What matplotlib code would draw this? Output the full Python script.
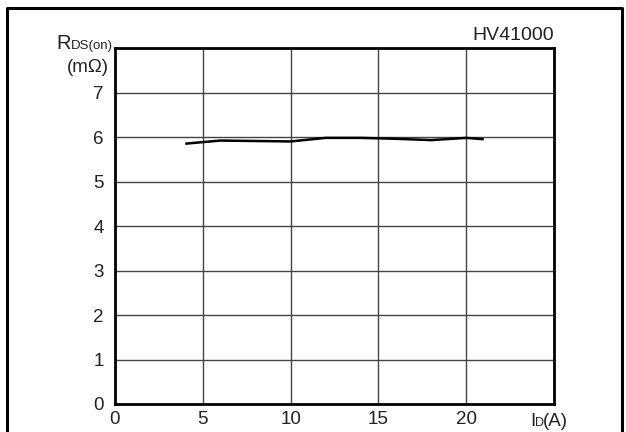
import matplotlib
matplotlib.use("Agg")
import matplotlib.pyplot as plt
from matplotlib.lines import Line2D

plt.rcParams['font.family'] = ['Liberation Sans', 'DejaVu Sans']

# Data
current_a = [4, 6, 8, 10, 12, 14, 16, 18, 20, 21]
rds_mohm = [5.85, 5.92, 5.91, 5.90, 5.98, 5.98, 5.96, 5.93, 5.98, 5.95]
x_ticks = [0, 5, 10, 15, 20]
y_ticks = [0, 1, 2, 3, 4, 5, 6, 7]
part_name = "HV41000"

W, H = 626, 432
fig = plt.figure(figsize=(W / 100, H / 100), dpi=100)
ax = fig.add_axes([115 / W, 1 - 404 / H, 439 / W, 356 / H])

ax.plot(current_a, rds_mohm, color='black', lw=1.8, solid_capstyle='butt')

ax.set_xlim(0, 25)
ax.set_ylim(0, 8)
ax.set_xticks(x_ticks)
ax.set_yticks(y_ticks)
ax.set_xticklabels([str(v) for v in x_ticks])
ax.set_yticklabels([str(v) for v in y_ticks])
ax.tick_params(length=0, labelsize=13.5, colors='#222222')
ax.tick_params(axis='x', pad=5)
ax.tick_params(axis='y', pad=8)

# grid
for xv in [5, 10, 15, 20]:
    ax.axvline(xv, color='#444444', lw=1.0, zorder=0)
for yv in [1, 2, 3, 4, 5, 6, 7]:
    ax.axhline(yv, color='#444444', lw=1.0, zorder=0)

for s in ax.spines.values():
    s.set_linewidth(2.0)
    s.set_color('black')

# part name
ax.text(1.0, 1.012, part_name, transform=ax.transAxes, ha='right', va='bottom',
        fontsize=14, color='#222222')

# y label: R DS(on) / (mΩ)
fig.text(71 / W, 1 - 49 / H, "R", ha='right', va='baseline', fontsize=14.5, color='#222222')
fig.text(71 / W, 1 - 49 / H, "DS(on)", ha='left', va='baseline', fontsize=9.5, color='#222222')
fig.text(109 / W, 1 - 72 / H, "(mΩ)", ha='right', va='baseline', fontsize=13.5, color='#222222')

# x label: I D (A)
fig.text(530 / W, 1 - 426 / H, "I", ha='left', va='baseline', fontsize=13.5, color='#222222')
fig.text(535 / W, 1 - 426 / H, "D", ha='left', va='baseline', fontsize=9, color='#222222')
fig.text(543 / W, 1 - 426 / H, "(A)", ha='left', va='baseline', fontsize=13.5, color='#222222')

# outer frame (open at the bottom)
fx0, fx1, fy = 7 / W, 622 / W, 1 - 8 / H
fig.add_artist(Line2D([fx0, fx0, fx1, fx1], [0, fy, fy, 0], transform=fig.transFigure,
                      color='black', lw=2.2))

fig.savefig("out.png", dpi=100)
